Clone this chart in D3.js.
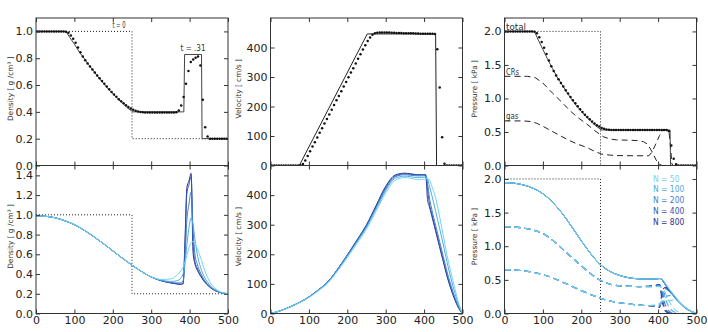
<!DOCTYPE html>
<html><head><meta charset="utf-8">
<script src="https://cdn.jsdelivr.net/npm/d3@7"></script>
<style>
html,body{margin:0;padding:0;background:#fff;}
svg{display:block;}
text{font-family:"DejaVu Sans",sans-serif;}
</style></head>
<body><svg id="c" width="708" height="332"></svg>
<script>
// ---------------- DATA ----------------
const xTicks = [0, 100, 200, 300, 400, 500];

// t = 0 initial state (dotted)
const initDensX = [0, 250, 250, 500];
const initDensY = [1.0, 1.0, 0.2, 0.2];
const initPresX = [0, 250, 250];
const initPresY = [2.0, 2.0, 0.0];

// top row: analytic solution at t = .31 (solid)
const anaDensX = [0, 78, 88, 100, 112, 125, 137, 150, 162, 175, 187, 200, 212, 225, 238, 252, 385, 387, 431, 432.5, 500];
const anaDensY = [1.0, 1.0, 0.955, 0.905, 0.85, 0.80, 0.752, 0.705, 0.659, 0.615, 0.574, 0.535, 0.499, 0.465, 0.43, 0.40, 0.40, 0.828, 0.828, 0.2, 0.2];
const anaVelX = [0, 75, 252, 430, 432.5, 500];
const anaVelY = [0, 0, 446, 446, 0, 0];
const anaPresX = [0, 78, 88, 100, 112, 125, 137, 150, 162, 175, 187, 200, 212, 225, 238, 252, 431, 432.5, 500];
const anaPresY = [2.0, 2.0, 1.87, 1.73, 1.59, 1.446, 1.32, 1.205, 1.095, 0.988, 0.895, 0.808, 0.733, 0.658, 0.59, 0.53, 0.53, 0.0, 0.0];

// top row: CR and gas pressure (dashed)
const crX = [0, 60, 80, 100, 110, 125, 150, 170, 190, 214, 235, 257, 275, 292, 320, 345, 362, 372, 385, 395, 403, 410, 500];
const crY = [1.33, 1.33, 1.31, 1.23, 1.17, 1.08, 0.94, 0.82, 0.72, 0.62, 0.52, 0.43, 0.395, 0.382, 0.378, 0.372, 0.355, 0.32, 0.2, 0.08, 0.02, 0, 0];
const gasX = [0, 50, 70, 84, 100, 127, 150, 170, 192, 214, 235, 253, 275, 292, 340, 376, 384, 394, 404, 412, 420, 428, 432, 436, 440, 500];
const gasY = [0.665, 0.665, 0.655, 0.63, 0.585, 0.5, 0.43, 0.37, 0.315, 0.27, 0.21, 0.17, 0.155, 0.148, 0.145, 0.145, 0.2, 0.32, 0.45, 0.52, 0.535, 0.53, 0.3, 0.02, 0, 0];

// top row: simulation cells (dots)
const cellX = [3.1, 9.4, 15.6, 21.9, 28.1, 34.4, 40.6, 46.9, 53.1, 59.4, 65.6, 71.9, 78.1, 84.4, 90.6, 96.9, 103.1, 109.4, 115.6, 121.9,
  128.1, 134.4, 140.6, 146.9, 153.1, 159.4, 165.6, 171.9, 178.1, 184.4, 190.6, 196.9, 203.1, 209.4, 215.6, 221.9, 228.1, 234.4, 240.6, 246.9,
  253.1, 259.4, 265.6, 271.9, 278.1, 284.4, 290.6, 296.9, 303.1, 309.4, 315.6, 321.9, 328.1, 334.4, 340.6, 346.9, 353.1, 359.4, 365.6, 371.9,
  378.1, 384.4, 390.6, 396.9, 403.1, 409.4, 415.6, 421.9, 428.1, 434.4, 440.6, 446.9, 453.1, 459.4, 465.6, 471.9, 478.1, 484.4, 490.6, 496.9];
const cellDens = [1, 1, 1, 1, 1, 1, 1, 1, 1, 1, 1, 1,
  0.998, 0.99, 0.97, 0.945, 0.915, 0.88, 0.845, 0.812, 0.785, 0.76, 0.738, 0.716, 0.694, 0.672, 0.651, 0.63, 0.609, 0.589, 0.569, 0.549, 0.53,
  0.512, 0.495, 0.479, 0.464, 0.45, 0.437, 0.426, 0.416, 0.409, 0.403, 0.399, 0.397,
  0.396, 0.396, 0.396, 0.396, 0.396, 0.396, 0.396, 0.396, 0.396, 0.396, 0.396, 0.396, 0.396,
  0.398, 0.41, 0.448, 0.51, 0.61, 0.704, 0.771, 0.791, 0.803, 0.813, 0.746, 0.49, 0.286, 0.216,
  0.2, 0.2, 0.2, 0.2, 0.2, 0.2, 0.2, 0.2];
const cellVel = [0, 0, 0, 0, 0, 0, 0, 0, 0, 0, 0, 0,
  1, 5, 17, 32, 48, 64, 79, 95, 111, 126, 142, 158, 173, 189, 205, 221, 236, 252, 268, 283, 299, 315, 330, 346, 362, 377, 393, 408, 422, 434, 443, 448, 450,
  451, 451, 451, 451, 450.5, 450, 450, 449.5, 449, 449, 448.5, 448.5, 448, 448, 448, 447.5, 447.5, 447, 447, 447, 447, 447, 447, 446,
  394, 264, 96, 6, 0, 0, 0, 0, 0, 0, 0];
const cellPres = [2, 2, 2, 2, 2, 2, 2, 2, 2, 2, 2, 2,
  1.995, 1.971, 1.914, 1.842, 1.758, 1.662, 1.567, 1.479, 1.408, 1.344, 1.287, 1.232, 1.178, 1.124, 1.073, 1.023, 0.974, 0.928, 0.883, 0.838, 0.797,
  0.758, 0.722, 0.688, 0.657, 0.628, 0.602, 0.58, 0.561, 0.547, 0.538, 0.533, 0.531,
  0.53, 0.53, 0.53, 0.53, 0.53, 0.53, 0.53, 0.53, 0.53, 0.53, 0.53, 0.53, 0.53, 0.53, 0.53, 0.53, 0.53, 0.53, 0.53, 0.53, 0.53, 0.53, 0.53,
  0.51, 0.3, 0.1, 0.02, 0, 0, 0, 0, 0, 0, 0, 0];

// bottom row: resolution study
const resLabels = ["N = 50", "N = 100", "N = 200", "N = 400", "N = 800"];
const resColors = ["#72d3f0", "#4ea9e2", "#3d7fcf", "#3454ae", "#2b2f8c"];
const gridX = [0, 25, 50, 75, 100, 125, 150, 175, 200, 225, 250, 275, 300, 325, 350, 365, 375, 383, 388, 393, 398, 404, 409, 414, 420, 430, 440, 450, 460, 470, 480, 490, 500];
const dens50  = [0.99, 0.985, 0.97, 0.94, 0.90, 0.845, 0.78, 0.71, 0.635, 0.56, 0.49, 0.425, 0.372, 0.345, 0.35, 0.38, 0.42, 0.47, 0.52, 0.59, 0.66, 0.72, 0.73, 0.71, 0.66, 0.55, 0.43, 0.34, 0.28, 0.245, 0.22, 0.207, 0.20];
const dens100 = [0.99, 0.985, 0.97, 0.94, 0.90, 0.845, 0.78, 0.71, 0.635, 0.56, 0.49, 0.425, 0.371, 0.34, 0.325, 0.33, 0.35, 0.40, 0.50, 0.70, 0.86, 0.97, 0.90, 0.75, 0.60, 0.45, 0.36, 0.30, 0.26, 0.235, 0.215, 0.205, 0.20];
const dens200 = [0.99, 0.985, 0.97, 0.94, 0.90, 0.845, 0.78, 0.71, 0.635, 0.56, 0.49, 0.425, 0.37, 0.336, 0.316, 0.31, 0.31, 0.33, 0.55, 0.95, 1.10, 1.23, 0.85, 0.60, 0.50, 0.40, 0.33, 0.285, 0.25, 0.228, 0.213, 0.205, 0.20];
const dens400 = [0.99, 0.985, 0.97, 0.94, 0.90, 0.845, 0.78, 0.71, 0.635, 0.56, 0.49, 0.425, 0.37, 0.334, 0.312, 0.303, 0.298, 0.305, 0.68, 1.22, 1.30, 1.39, 0.72, 0.53, 0.46, 0.38, 0.32, 0.28, 0.248, 0.227, 0.213, 0.205, 0.20];
const dens800 = [0.99, 0.985, 0.97, 0.94, 0.90, 0.845, 0.78, 0.71, 0.635, 0.56, 0.49, 0.425, 0.37, 0.333, 0.31, 0.30, 0.295, 0.30, 0.75, 1.28, 1.34, 1.42, 0.62, 0.50, 0.44, 0.37, 0.315, 0.275, 0.245, 0.225, 0.212, 0.204, 0.20];
const vel50  = [0, 9, 21, 36, 54, 77, 104, 144, 189, 236, 285, 346, 407, 450, 459, 457, 454, 452, 452, 452, 453, 455, 456, 450, 430, 390, 330, 262, 195, 138, 85, 35, 0];
const vel100 = [0, 9, 22, 37, 55, 79, 106, 147, 193, 241, 291, 353, 415, 457, 464, 462, 460, 459, 459, 459, 459, 461, 455, 430, 400, 345, 290, 232, 172, 118, 70, 30, 0];
const vel200 = [0, 9, 22, 37, 56, 80, 107, 149, 196, 244, 295, 358, 421, 462, 469, 467, 466, 465, 465, 465, 465, 466, 440, 390, 352, 298, 245, 192, 140, 95, 55, 23, 0];
const vel400 = [0, 9, 22, 37, 56, 80, 108, 150, 197, 246, 298, 362, 426, 465, 472, 470, 469, 468, 468, 468, 468, 468, 420, 370, 338, 285, 232, 180, 128, 86, 49, 20, 0];
const vel800 = [0, 9, 22, 37, 56, 80, 108, 150, 198, 248, 300, 365, 430, 468, 474, 472, 470, 469, 469, 469, 469, 469, 385, 360, 330, 278, 226, 175, 124, 82, 46, 18, 0];
const pres50  = [1.945, 1.937, 1.91, 1.86, 1.78, 1.655, 1.49, 1.29, 1.08, 0.885, 0.725, 0.625, 0.565, 0.53, 0.515, 0.512, 0.512, 0.513, 0.513, 0.514, 0.516, 0.518, 0.515, 0.49, 0.44, 0.36, 0.285, 0.215, 0.15, 0.095, 0.055, 0.022, 0.005];
const pres100 = [1.945, 1.937, 1.91, 1.86, 1.78, 1.655, 1.49, 1.29, 1.08, 0.885, 0.725, 0.625, 0.565, 0.53, 0.515, 0.512, 0.512, 0.513, 0.513, 0.514, 0.516, 0.519, 0.513, 0.48, 0.43, 0.35, 0.277, 0.207, 0.145, 0.092, 0.052, 0.021, 0.005];
const pres200 = [1.945, 1.937, 1.91, 1.86, 1.78, 1.655, 1.49, 1.29, 1.08, 0.885, 0.725, 0.625, 0.565, 0.53, 0.515, 0.512, 0.512, 0.513, 0.513, 0.514, 0.516, 0.52, 0.511, 0.472, 0.422, 0.343, 0.272, 0.202, 0.141, 0.09, 0.05, 0.02, 0.005];
const pres400 = [1.945, 1.937, 1.91, 1.86, 1.78, 1.655, 1.49, 1.29, 1.08, 0.885, 0.725, 0.625, 0.565, 0.53, 0.515, 0.512, 0.512, 0.513, 0.513, 0.514, 0.516, 0.52, 0.51, 0.47, 0.42, 0.34, 0.27, 0.20, 0.14, 0.09, 0.05, 0.02, 0.005];
const pres800 = [1.945, 1.937, 1.91, 1.86, 1.78, 1.655, 1.49, 1.29, 1.08, 0.885, 0.725, 0.625, 0.565, 0.53, 0.515, 0.512, 0.512, 0.513, 0.513, 0.514, 0.516, 0.52, 0.51, 0.47, 0.42, 0.34, 0.27, 0.20, 0.14, 0.09, 0.05, 0.02, 0.005];
const cr50  = [1.29, 1.285, 1.27, 1.24, 1.19, 1.09, 0.965, 0.835, 0.71, 0.59, 0.49, 0.435, 0.412, 0.403, 0.398, 0.396, 0.395, 0.395, 0.396, 0.397, 0.398, 0.40, 0.39, 0.35, 0.29, 0.17, 0.08, 0.03, 0.01, 0, 0, 0, 0];
const cr100 = [1.29, 1.285, 1.27, 1.24, 1.19, 1.09, 0.965, 0.835, 0.71, 0.59, 0.49, 0.435, 0.412, 0.404, 0.40, 0.40, 0.40, 0.40, 0.402, 0.404, 0.406, 0.41, 0.38, 0.30, 0.20, 0.08, 0.03, 0.01, 0, 0, 0, 0, 0];
const cr200 = [1.29, 1.285, 1.27, 1.24, 1.19, 1.09, 0.965, 0.835, 0.71, 0.59, 0.49, 0.435, 0.412, 0.405, 0.40, 0.40, 0.402, 0.405, 0.408, 0.41, 0.415, 0.42, 0.35, 0.22, 0.11, 0.03, 0, 0, 0, 0, 0, 0, 0];
const cr400 = [1.29, 1.285, 1.27, 1.24, 1.19, 1.09, 0.965, 0.835, 0.71, 0.59, 0.49, 0.435, 0.412, 0.405, 0.40, 0.402, 0.405, 0.408, 0.412, 0.416, 0.42, 0.425, 0.30, 0.14, 0.05, 0.01, 0, 0, 0, 0, 0, 0, 0];
const cr800 = [1.29, 1.285, 1.27, 1.24, 1.19, 1.09, 0.965, 0.835, 0.71, 0.59, 0.49, 0.435, 0.412, 0.405, 0.40, 0.403, 0.406, 0.41, 0.415, 0.42, 0.425, 0.43, 0.25, 0.10, 0.03, 0, 0, 0, 0, 0, 0, 0, 0];
const gas50  = [0.65, 0.646, 0.635, 0.612, 0.578, 0.53, 0.47, 0.405, 0.34, 0.28, 0.225, 0.185, 0.16, 0.14, 0.125, 0.12, 0.12, 0.122, 0.125, 0.13, 0.14, 0.15, 0.17, 0.19, 0.2, 0.19, 0.2, 0.185, 0.14, 0.095, 0.055, 0.022, 0.005];
const gas100 = [0.65, 0.646, 0.635, 0.612, 0.578, 0.53, 0.47, 0.405, 0.34, 0.28, 0.225, 0.185, 0.16, 0.14, 0.125, 0.12, 0.118, 0.118, 0.12, 0.122, 0.125, 0.13, 0.16, 0.2, 0.24, 0.27, 0.247, 0.197, 0.145, 0.092, 0.052, 0.021, 0.005];
const gas200 = [0.65, 0.646, 0.635, 0.612, 0.578, 0.53, 0.47, 0.405, 0.34, 0.28, 0.225, 0.185, 0.16, 0.14, 0.125, 0.12, 0.116, 0.115, 0.115, 0.115, 0.115, 0.11, 0.17, 0.26, 0.31, 0.313, 0.272, 0.202, 0.141, 0.09, 0.05, 0.02, 0.005];
const gas400 = [0.65, 0.646, 0.635, 0.612, 0.578, 0.53, 0.47, 0.405, 0.34, 0.28, 0.225, 0.185, 0.16, 0.14, 0.125, 0.12, 0.115, 0.113, 0.112, 0.11, 0.105, 0.10, 0.22, 0.33, 0.37, 0.33, 0.27, 0.20, 0.14, 0.09, 0.05, 0.02, 0.005];
const gas800 = [0.65, 0.646, 0.635, 0.612, 0.578, 0.53, 0.47, 0.405, 0.34, 0.28, 0.225, 0.185, 0.16, 0.14, 0.125, 0.12, 0.115, 0.112, 0.11, 0.105, 0.10, 0.09, 0.26, 0.37, 0.39, 0.34, 0.27, 0.20, 0.14, 0.09, 0.05, 0.02, 0.005];

// axis ticks / labels
const densTicksTop = [0, 0.2, 0.4, 0.6, 0.8, 1.0];
const densTicksBot = [0, 0.2, 0.4, 0.6, 0.8, 1.0, 1.2, 1.4];
const velTicks = [0, 100, 200, 300, 400];
const presTicks = [0, 0.5, 1.0, 1.5, 2.0];
const yTitles = ["Density [ g /cm\u00B3 ]", "Velocity [ cm/s ]", "Pressure [ kPa ]"];

// ---------------- DRAW ----------------
const svg = d3.select("#c");
svg.append("rect").attr("width", 708).attr("height", 332).attr("fill", "#fff");
const colX = [36, 270.5, 504.5], colW = 192;
const titleOff = [25.5, 31.5, 29.5];
const rowY = [18, 165.5], rowH = [147.5, 148];
const zip = (xs, ys) => xs.map((x, i) => [x, ys[i]]);
let clipId = 0;

function makePanel(col, row, yDomain, yTicks, fmt, title, curve) {
  const x = d3.scaleLinear().domain([0, 500]).range([colX[col], colX[col] + colW]);
  const y = d3.scaleLinear().domain(yDomain).range([rowY[row] + rowH[row], rowY[row]]);
  const id = "clip" + (clipId++);
  svg.append("clipPath").attr("id", id).append("rect")
    .attr("x", colX[col]).attr("y", rowY[row]).attr("width", colW).attr("height", rowH[row]);
  const g = svg.append("g").attr("clip-path", `url(#${id})`);
  const line = d3.line().x(d => x(d[0])).y(d => y(d[1])).curve(curve || d3.curveLinear);
  const lineLin = d3.line().x(d => x(d[0])).y(d => y(d[1]));
  return {x, y, g, line, lineLin, col, row, yTicks, fmt, title};
}

function finishPanel(p) {
  const {x, y, row, col} = p;
  const axG = svg.append("g");
  const styleAxis = sel => {
    sel.select(".domain").remove();
    sel.selectAll(".tick line").attr("stroke", "#333").attr("stroke-width", 1);
    sel.selectAll("text").attr("font-size", 11).attr("fill", "#222").attr("font-family", "DejaVu Sans, sans-serif");
  };
  axG.append("g").attr("transform", `translate(${colX[col]},0)`)
    .call(d3.axisLeft(y).tickValues(p.yTicks).tickFormat(p.fmt).tickSize(-4).tickPadding(3)).call(styleAxis);
  axG.append("g").attr("transform", `translate(${colX[col] + colW},0)`)
    .call(d3.axisRight(y).tickValues(p.yTicks).tickFormat("").tickSize(-4)).call(styleAxis);
  axG.append("g").attr("transform", `translate(0,${rowY[row]})`)
    .call(d3.axisTop(x).tickValues(xTicks).tickFormat("").tickSize(-4)).call(styleAxis);
  axG.append("g").attr("transform", `translate(0,${rowY[row] + rowH[row]})`)
    .call(d3.axisBottom(x).tickValues(xTicks).tickFormat(row === 1 ? d3.format("d") : "").tickSize(-4).tickPadding(3))
    .call(styleAxis);
  axG.append("rect").attr("x", colX[col]).attr("y", rowY[row]).attr("width", colW).attr("height", rowH[row])
    .attr("fill", "none").attr("stroke", "#333").attr("stroke-width", 1);
  svg.append("text").attr("transform", `translate(${colX[col] - titleOff[col]},${rowY[row] + rowH[row] / 2 - 3}) rotate(-90)`)
    .attr("text-anchor", "middle").attr("dominant-baseline", "middle")
    .attr("font-size", 7.4).attr("fill", "#333").text(p.title);
}

function drawPath(p, pts, color, width, dash, linear) {
  p.g.append("path").attr("d", (linear ? p.lineLin : p.line)(pts)).attr("fill", "none")
    .attr("stroke", color).attr("stroke-width", width)
    .attr("stroke-dasharray", dash || null);
}
function drawDots(p, xs, ys) {
  p.g.selectAll(null).data(zip(xs, ys)).enter().append("circle")
    .attr("cx", d => p.x(d[0])).attr("cy", d => p.y(d[1])).attr("r", 1.25).attr("fill", "#111");
}
function note(x, y, txt, size, len) {
  const t = svg.append("text").attr("x", x).attr("y", y).attr("font-size", size).attr("fill", "#333").text(txt);
  if (len) t.attr("textLength", len).attr("lengthAdjust", "spacingAndGlyphs");
  return t;
}

const f1 = d3.format(".1f"), f0 = d3.format("d");
// --- top row ---
const tD = makePanel(0, 0, [0, 1.1], densTicksTop, f1, yTitles[0]);
drawPath(tD, zip(initDensX, initDensY), "#222", 1, "1,2");
drawPath(tD, zip(anaDensX, anaDensY), "#444", 1);
drawDots(tD, cellX, cellDens);
finishPanel(tD);
note(112.5, tD.y(1.0) - 3, "t = 0", 8.5, 13);
note(180.5, tD.y(0.828) - 3, "t = .31", 9, 25);

const tV = makePanel(1, 0, [0, 500], velTicks, f0, yTitles[1]);
drawPath(tV, zip(anaVelX, anaVelY), "#222", 1);
drawDots(tV, cellX, cellVel);
finishPanel(tV);

const tP = makePanel(2, 0, [0, 2.2], presTicks, f1, yTitles[2]);
drawPath(tP, zip(initPresX, initPresY), "#222", 1, "1,2");
drawPath(tP, zip(crX, crY), "#222", 1, "6,4");
drawPath(tP, zip(gasX, gasY), "#222", 1, "6,4");
drawPath(tP, zip(anaPresX, anaPresY), "#444", 1);
drawDots(tP, cellX, cellPres);
finishPanel(tP);
note(tP.x(4), tP.y(2.0) - 1.5, "total", 8.5, 20);
note(tP.x(4), tP.y(1.33) - 1.5, "CRs", 8, 13);
note(tP.x(4), tP.y(0.665) - 1.5, "gas", 8, 12.5);

// --- bottom row ---
const densS = [dens50, dens100, dens200, dens400, dens800];
const velS = [vel50, vel100, vel200, vel400, vel800];
const presS = [pres50, pres100, pres200, pres400, pres800];
const crS = [cr50, cr100, cr200, cr400, cr800];
const gasS = [gas50, gas100, gas200, gas400, gas800];
const order = [4, 3, 2, 1, 0];
const smooth = d3.curveMonotoneX;

const bD = makePanel(0, 1, [0, 1.5], densTicksBot, f1, yTitles[0], smooth);
drawPath(bD, zip(initDensX, initDensY), "#222", 1, "1,2", true);
order.forEach(i => drawPath(bD, zip(gridX, densS[i]), resColors[i], 1));
finishPanel(bD);

const bV = makePanel(1, 1, [0, 500], velTicks, f0, yTitles[1], smooth);
order.forEach(i => drawPath(bV, zip(gridX, velS[i]), resColors[i], 1));
finishPanel(bV);

const bP = makePanel(2, 1, [0, 2.2], presTicks, f1, yTitles[2], smooth);
drawPath(bP, zip(initPresX, initPresY), "#222", 1, "1,2", true);
order.forEach(i => {
  drawPath(bP, zip(gridX, crS[i]), resColors[i], 1.1, "6,4");
  drawPath(bP, zip(gridX, gasS[i]), resColors[i], 1.1, "6,4");
  drawPath(bP, zip(gridX, presS[i]), resColors[i], 1);
});
finishPanel(bP);
resLabels.forEach((t, i) => {
  svg.append("text").attr("transform", `translate(653,${179 + i * 10.7}) scale(0.8,1)`)
    .attr("dominant-baseline", "middle").attr("font-size", 9.5).attr("fill", resColors[i]).text(t);
});
</script></body></html>
